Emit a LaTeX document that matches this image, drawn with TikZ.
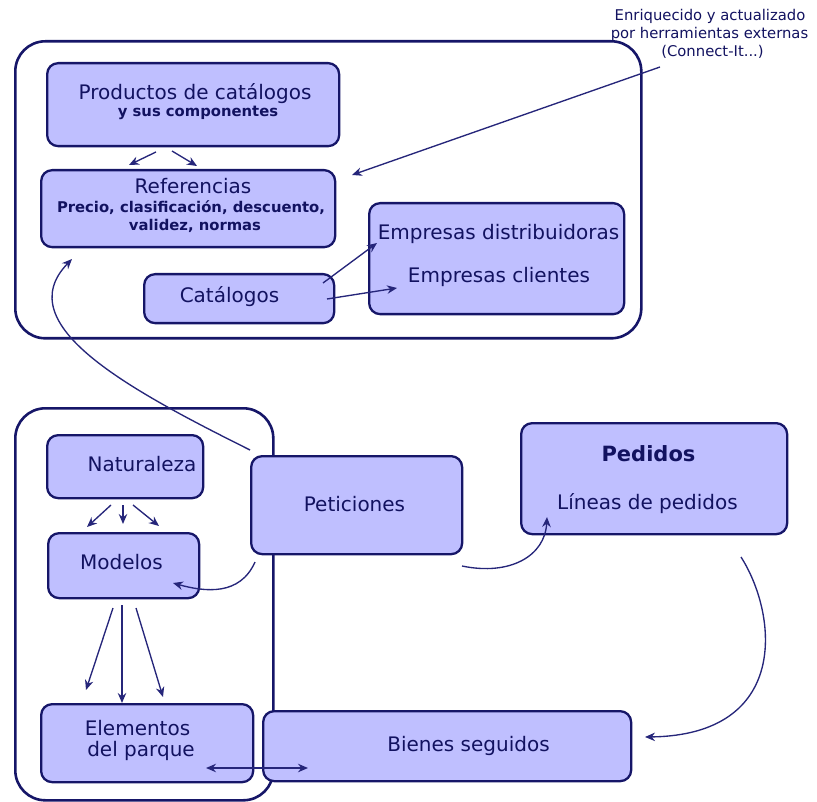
\documentclass[tikz,border=0pt]{standalone}
\usepackage{fontspec}
\setmainfont{DejaVu Sans}
\usetikzlibrary{arrows.meta}
\definecolor{boxfill}{RGB}{191,191,255}
\definecolor{navy}{RGB}{22,22,104}
\definecolor{txt}{RGB}{18,18,96}
\definecolor{arr}{RGB}{38,38,122}
\begin{document}
\begin{tikzpicture}[x=1pt,y=-1pt,
  container/.style={draw=navy, line width=2.6pt, rounded corners=30pt, inner sep=0pt, anchor=north west},
  box/.style={draw=navy, fill=boxfill, line width=2.3pt, rounded corners=11pt, inner sep=0pt, anchor=north west},
  lbl/.style={text=txt, font=\fontsize{20}{22}\selectfont, anchor=base, inner sep=0pt},
  sub/.style={text=txt, font=\fontsize{14.8}{16}\selectfont\bfseries, anchor=base, inner sep=0pt},
  note/.style={text=txt, font=\fontsize{14.8}{16}\selectfont, anchor=base, inner sep=0pt},
  conn/.style={draw=arr, line width=1.35pt, -{Stealth[length=10pt,width=8.5pt]}},
  dconn/.style={draw=arr, line width=1.35pt, {Stealth[length=10pt,width=8.5pt]}-{Stealth[length=10pt,width=8.5pt]}}]
\useasboundingbox (0,0) rectangle (817,802);

% containers
\node[container, minimum width=626pt, minimum height=297pt] (topc) at (14,40) {};
\node[container, minimum width=258pt, minimum height=392pt] (botc) at (14,407) {};

% boxes
\node[box, minimum width=292pt, minimum height=83pt] (prod) at (46,62) {};
\node[box, minimum width=294pt, minimum height=77pt] (ref) at (40,169) {};
\node[box, minimum width=190pt, minimum height=49pt] (cat) at (143,273) {};
\node[box, minimum width=255pt, minimum height=111pt] (emp) at (368,202) {};
\node[box, minimum width=156pt, minimum height=63pt] (nat) at (46,434) {};
\node[box, minimum width=151pt, minimum height=65pt] (mod) at (47,532) {};
\node[box, minimum width=211pt, minimum height=98pt] (pet) at (250,455) {};
\node[box, minimum width=266pt, minimum height=111pt] (ped) at (520,422) {};
\node[box, minimum width=212pt, minimum height=78pt] (ele) at (40,703) {};
\node[box, minimum width=368pt, minimum height=70pt] (bien) at (262,710) {};

% texts
\node[note] (n1) at (710,21) {Enriquecido y actualizado};
\node[note] (n2) at (709.5,39) {por herramientas externas};
\node[note] (n3) at (712.5,57) {(Connect-It...)};
\node[lbl] (tprod) at (195,100) {Productos de catálogos};
\node[sub] (tprod2) at (198,117) {y sus componentes};
\node[lbl] (tref) at (193,194) {Referencias};
\node[sub] (tref2) at (191,213) {Precio, clasificación, descuento,};
\node[sub] (tref3) at (195,231) {validez, normas};
\node[lbl] (tcat) at (229.5,303) {Catálogos};
\node[lbl] (temp1) at (498.5,240) {Empresas distribuidoras};
\node[lbl] (temp2) at (499,283) {Empresas clientes};
\node[lbl] (tnat) at (142,471) {Naturaleza};
\node[lbl] (tmod) at (121.5,569) {Modelos};
\node[lbl] (tpet) at (354.5,511) {Peticiones};
\node[text=txt, font=\fontsize{21}{23}\selectfont\bfseries, anchor=base, inner sep=0pt] (tped) at (648.5,461) {Pedidos};
\node[lbl] (tped2) at (647.5,509) {Líneas de pedidos};
\node[lbl] (tele1) at (137.5,735) {Elementos};
\node[lbl] (tele2) at (141,756) {del parque};
\node[lbl] (tbien) at (468.5,751) {Bienes seguidos};

% connector end points
\coordinate (a1s) at (156,152); \coordinate (a1e) at (129,165);
\coordinate (a2s) at (172,151); \coordinate (a2e) at (197,166);
\coordinate (a3s) at (660,67);  \coordinate (a3e) at (352,175);
\coordinate (a4s) at (323,283); \coordinate (a4e) at (377,243);
\coordinate (a5s) at (327,299); \coordinate (a5e) at (397,288);
\coordinate (a6s) at (250,450); \coordinate (a6e) at (72,259);
\coordinate (a7s) at (111,505); \coordinate (a7e) at (87,527);
\coordinate (a8s) at (123,505); \coordinate (a8e) at (123,524);
\coordinate (a9s) at (133,505); \coordinate (a9e) at (159,526);
\coordinate (b1s) at (255,562); \coordinate (b1e) at (173,583);
\coordinate (b2s) at (113,608); \coordinate (b2e) at (86,690);
\coordinate (b3s) at (122,605);
\coordinate (b4s) at (136,608); \coordinate (b4e) at (163,697);
\coordinate (b5s) at (462,566); \coordinate (b5e) at (547,517);
\coordinate (b6s) at (741,557); \coordinate (b6e) at (645,737);
\coordinate (b7s) at (206,768); \coordinate (b7e) at (308,768);

% connectors
\draw[conn] (a1s) -- (a1e);
\draw[conn] (a2s) -- (a2e);
\draw[conn] (a3s) -- (a3e);
\draw[conn] (a4s) -- (a4e);
\draw[conn] (a5s) -- (a5e);
\draw[conn] (a6s) .. controls (130,390) and (8,325) .. (a6e);
\draw[conn] (a7s) -- (a7e);
\draw[conn] (a8s) -- (a8e);
\draw[conn] (a9s) -- (a9e);
\draw[conn] (b1s) .. controls (240,596) and (205,592) .. (b1e);
\draw[conn] (b2s) -- (b2e);
\draw[conn] (b3s) -- (b3s |- ele.north);
\draw[conn] (b4s) -- (b4e);
\draw[conn] (b5s) .. controls (510,576) and (545,556) .. (b5e);
\draw[conn] (b6s) .. controls (778,615) and (790,735) .. (b6e);
\draw[dconn] (b7s) -- (b7e);
\end{tikzpicture}
\end{document}
